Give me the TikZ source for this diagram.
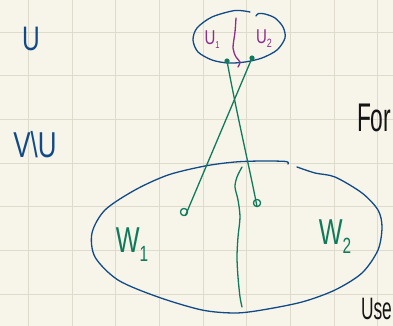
\documentclass[tikz,border=0pt]{standalone}
\usepackage{fontspec}
\setmainfont{Liberation Sans}
\definecolor{paper}{HTML}{F7F5EA}
\definecolor{gridc}{HTML}{DEDBCD}
\definecolor{ink}{HTML}{114A86}
\definecolor{grn}{HTML}{0F7B5A}
\definecolor{pur}{HTML}{8B2D8C}
\definecolor{blk}{HTML}{151515}
\begin{document}
\begin{tikzpicture}[x=1pt,y=-1pt,
  pen/.style={line width=1.3pt,line cap=round,line join=round},
  bluepen/.style={pen,draw=ink},
  greenpen/.style={pen,draw=grn},
  purplepen/.style={pen,draw=pur},
  lbl/.style={inner sep=0pt,outer sep=0pt}]
\useasboundingbox (0,0) rectangle (393,326);
\clip (0,0) rectangle (393,326);
\fill[paper] (0,0) rectangle (393,326);
\foreach \i in {0,...,8} \draw[gridc,line width=1pt] ({28.3+43.7*\i},0) -- ++(0,326);
\foreach \j in {0,...,6} \draw[gridc,line width=1pt] (0,{32.3+43.65*\j}) -- ++(393,0);

% small set
\draw[bluepen] plot[smooth] coordinates {(250,12) (235,10.5) (212,17) (197,28) (193,40) (198,52) (212,60) (228,63) (245,62) (262,58) (277,50) (285,38) (283,27) (275,18) (265,14) (258.5,13.5) (256,16)};
\draw[purplepen] plot[smooth] coordinates {(236,18) (235,32) (233,48) (236,57) (240,62) (238,67)};
\node[lbl,text=pur,font=\fontsize{20}{20}\selectfont,xscale=0.75] (u1) at (212,40) {U{\fontsize{10}{10}\selectfont\raisebox{-4pt}{1}}};
\node[lbl,text=pur,font=\fontsize{20}{20}\selectfont,xscale=0.75] (u2) at (264,39) {U{\fontsize{12}{12}\selectfont\raisebox{-4pt}{2}}};

% big set
\draw[bluepen] plot[smooth] coordinates {(288,164) (286,161.5) (262,161) (235,162) (205,166) (168,175) (135,190) (105,210) (92,233) (95,257) (118,280) (158,297) (202,310) (235,313) (262,310) (302,302) (335,290) (362,273) (378,250) (382,227) (378,210) (362,193) (335,177) (315,173) (297,167)};
\draw[greenpen] plot[smooth] coordinates {(242,167) (237,177) (235,187) (238,200) (240,217) (238,237) (237,257) (238,277) (240,297) (242,307)};
\node[lbl,text=grn,font=\fontsize{36}{36}\selectfont,xscale=0.7] (w1) at (132,245) {W{\fontsize{22}{22}\selectfont\raisebox{-9pt}{1}}};
\node[lbl,text=grn,font=\fontsize{36}{36}\selectfont,xscale=0.7] (w2) at (335,237) {W{\fontsize{22}{22}\selectfont\raisebox{-9pt}{2}}};

% points and connectors
\coordinate (a1) at (227,61);
\coordinate (a2) at (252,58);
\coordinate (b1) at (257,203);
\coordinate (b2) at (184,212);
\fill[grn] (a1) circle (2.6);
\fill[grn] (a2) circle (2.6);
\draw[greenpen] (b1) circle (3.6);
\draw[greenpen] (b2) circle (3.6);
\draw[greenpen] (a1) .. controls (238,120) and (250,170) .. ([yshift=-3.6pt]b1);
\draw[greenpen] (a2) -- ([shift={(1.5pt,-3.3pt)}]b2);

% labels
\node[lbl,text=ink,font=\fontsize{34}{34}\selectfont,xscale=0.72] (U) at (31,39) {U};
\node[lbl,text=ink,font=\fontsize{36}{36}\selectfont,xscale=0.72] (VU) at (35,145) {V\textbackslash U};
\node[lbl,text=blk,font=\fontsize{40}{40}\selectfont,xscale=0.57,anchor=west] (for) at (357,118) {For};
\node[lbl,text=blk,font=\fontsize{31}{31}\selectfont,xscale=0.56,anchor=west] (use) at (361,309) {Use};
\end{tikzpicture}
\end{document}
